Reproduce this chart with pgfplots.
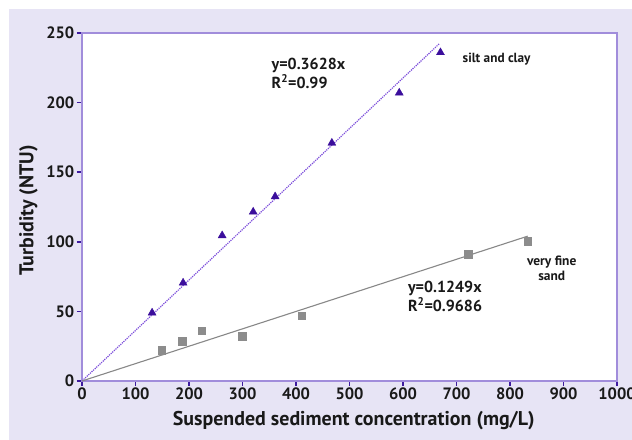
\documentclass[border=0pt]{standalone}
\usepackage{pgfplots}
\pgfplotsset{compat=1.18}
\usepackage{fontspec}
\setmainfont{PT Sans}
\definecolor{bgc}{HTML}{E7E4F5}
\definecolor{framec}{HTML}{A18DDB}
\definecolor{tickc}{HTML}{3D1A9E}
\definecolor{tric}{HTML}{3B0E9C}
\definecolor{dotc}{HTML}{7C4DDB}
\definecolor{sqc}{HTML}{8C8C8C}
\definecolor{linec}{HTML}{888888}
\pgfplotstableread{
x y
131 49
189 70.5
262 104.5
320 121.5
361 132.5
467 171
593 207
670 236
}\siltclay
\pgfplotstableread{
x y
149 22
187 28.7
224 36
299 32.2
411 47
722 91.2
833 100.4
}\finesand
\pgfplotstableread{
x y
0 0
668 242.35
}\fitone
\pgfplotstableread{
x y
0 0
833 104.04
}\fittwo
\begin{document}
\begin{tikzpicture}
\path[use as bounding box] (-82bp,-59bp) rectangle (550bp,381bp);
\fill[bgc] (-73bp,-59bp) rectangle (550bp,372bp);
\begin{axis}[
  at={(0,0)}, anchor=south west,
  scale only axis, width=535bp, height=348bp,
  xmin=0, xmax=1000, ymin=0, ymax=250,
  xtick={0,100,...,1000}, ytick={0,50,...,250},
  axis background/.style={fill=white},
  axis line style={framec, line width=1.5bp},
  tick align=outside, tick pos=left,
  major tick length=5bp,
  every tick/.style={tickc, line width=1.8bp},
  /pgf/number format/assume math mode=true,
  /pgf/number format/1000 sep={},
  tick label style={font=\bfseries\fontsize{16.5}{18}\selectfont, text=black!90},
  xticklabel style={inner sep=2bp},
  yticklabel style={inner sep=2.5bp},
  xlabel={Suspended sediment concentration (mg/L)},
  ylabel={Turbidity (NTU)},
  label style={font=\bfseries\fontsize{20}{22}\selectfont, text=black!90},
  xlabel style={at={(axis description cs:0.508,-0.115)}, anchor=center},
  ylabel style={at={(axis description cs:-0.1,0.49)}, anchor=center, rotate=0},
  clip=false,
]
\addplot[dotc, densely dotted, line width=1.2bp] table {\fitone};
\addplot[linec, line width=1.1bp] table {\fittwo};
\addplot[only marks, mark=triangle*, mark size=4.6bp, tric, mark options={fill=tric, draw=tric}] table {\siltclay};
\addplot[only marks, mark=square*, mark size=3.8bp, sqc, mark options={fill=sqc, draw=sqc}] table {\finesand};
\node[anchor=west, align=left, font=\bfseries\fontsize{16}{19}\selectfont, text=black!90] at (axis cs:348,221) {y=0.3628x\\R\textsuperscript{2}=0.99};
\node[anchor=west, align=left, font=\bfseries\fontsize{16}{19}\selectfont, text=black!90] at (axis cs:603,60.5) {y=0.1249x\\R\textsuperscript{2}=0.9686};
\node[anchor=west, font=\bfseries\fontsize{13.3}{15}\selectfont, text=black!90] at (axis cs:705,231.3) {silt and clay};
\node[align=center, font=\bfseries\fontsize{13.5}{15}\selectfont, text=black!90] at (axis cs:878,81) {very fine\\sand};
\end{axis}
\end{tikzpicture}
\end{document}
